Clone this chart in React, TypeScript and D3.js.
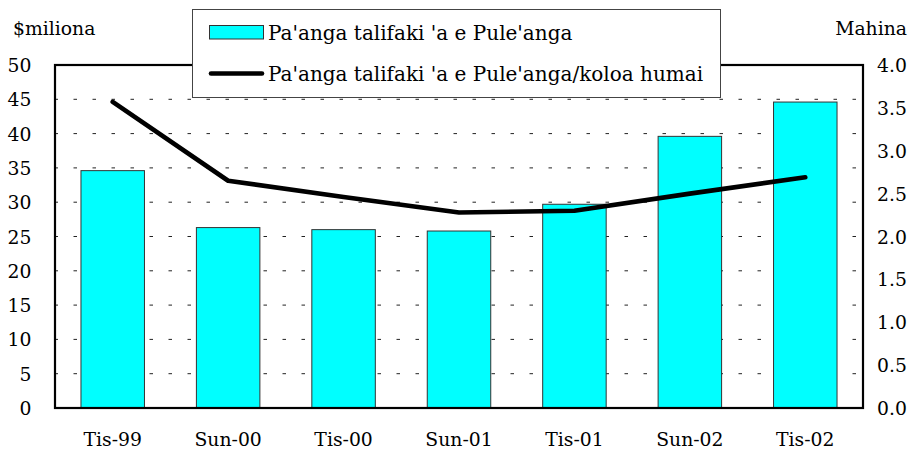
import React from "react";
import * as d3 from "d3";

const categories = ["Tis-99", "Sun-00", "Tis-00", "Sun-01", "Tis-01", "Sun-02", "Tis-02"];
const barValues = [34.6, 26.3, 26.0, 25.8, 29.7, 39.6, 44.6];
const lineValues = [3.57, 2.65, 2.46, 2.28, 2.3, 2.5, 2.69];
const leftTicks = [0, 5, 10, 15, 20, 25, 30, 35, 40, 45, 50];
const rightTicks = [0, 0.5, 1, 1.5, 2, 2.5, 3, 3.5, 4];
const barLabel = "Pa'anga talifaki 'a e Pule'anga";
const lineLabel = "Pa'anga talifaki 'a e Pule'anga/koloa humai";
const leftTitle = "$miliona";
const rightTitle = "Mahina";

const W = 909;
const H = 452;
const M = { left: 55, right: 863, top: 65, bottom: 408 };
const FONT = "'DejaVu Serif', serif";
const FS = 18.8;
const LFS = 20;

export default function App() {
  const x = d3.scaleBand<string>().domain(categories).range([M.left, M.right]).paddingInner(0.45).paddingOuter(0.225);
  const yL = d3.scaleLinear().domain([0, 50]).range([M.bottom, M.top]);
  const yR = d3.scaleLinear().domain([0, 4]).range([M.bottom, M.top]);
  const line = d3
    .line<number>()
    .x((_, i) => (x(categories[i]) as number) + x.bandwidth() / 2)
    .y((d) => yR(d));

  return (
    <svg width={W} height={H} style={{ position: "absolute", left: 0, top: 0, background: "#fff" }} fontFamily={FONT}>
      <rect x={0} y={0} width={W} height={H} fill="#fff" />
      {/* gridlines */}
      {leftTicks
        .filter((t) => t > 0 && t < 50)
        .map((t) => (
          <line key={t} x1={M.left} x2={M.right} y1={yL(t)} y2={yL(t)} stroke="#222" strokeWidth={1} strokeDasharray="3.5,15.5" strokeDashoffset={0.5} />
        ))}
      {/* bars */}
      {categories.map((c, i) => (
        <rect
          key={c}
          x={x(c)}
          y={yL(barValues[i])}
          width={x.bandwidth()}
          height={yL(0) - yL(barValues[i])}
          fill="#00FFFF"
          stroke="#333"
          strokeWidth={1}
        />
      ))}
      {/* frame */}
      <rect x={M.left} y={M.top} width={M.right - M.left} height={M.bottom - M.top} fill="none" stroke="#000" strokeWidth={2.2} />
      {/* line */}
      <path d={line(lineValues) as string} fill="none" stroke="#000" strokeWidth={4.6} strokeLinejoin="round" strokeLinecap="round" />
      {/* left ticks */}
      {leftTicks.map((t) => (
        <text key={t} x={31.5} y={yL(t) + 7} textAnchor="end" fontSize={FS}>
          {t}
        </text>
      ))}
      {rightTicks.map((t) => (
        <text key={t} x={877} y={yR(t) + 7} textAnchor="start" fontSize={FS}>
          {t.toFixed(1)}
        </text>
      ))}
      {categories.map((c) => (
        <text key={c} x={(x(c) as number) + x.bandwidth() / 2} y={446} textAnchor="middle" fontSize={FS}>
          {c}
        </text>
      ))}
      <text x={13} y={35} fontSize={FS}>
        {leftTitle}
      </text>
      <text x={907} y={35} fontSize={FS} textAnchor="end">
        {rightTitle}
      </text>
      {/* legend */}
      <rect x={192.5} y={9.5} width={528} height={88} fill="#fff" stroke="#444" strokeWidth={1} />
      <rect x={209.5} y={25.5} width={54} height={13.5} fill="#00FFFF" stroke="#333" strokeWidth={1} />
      <text x={268} y={40} fontSize={LFS}>
        {barLabel}
      </text>
      <line x1={211} x2={262} y1={73.5} y2={73.5} stroke="#000" strokeWidth={4.6} strokeLinecap="round" />
      <text x={268} y={81} fontSize={LFS}>
        {lineLabel}
      </text>
    </svg>
  );
}
